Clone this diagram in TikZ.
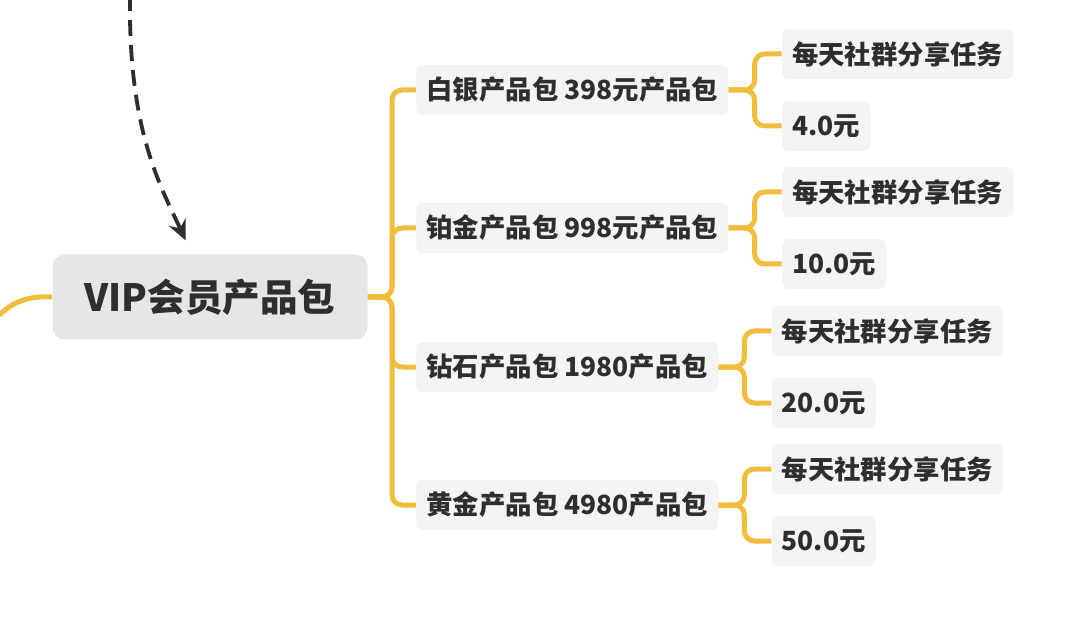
\documentclass[tikz,border=0pt]{standalone}
\usepackage{fontspec}
\setmainfont{Noto Sans CJK SC}
\usetikzlibrary{arrows.meta, positioning}
\definecolor{branchyellow}{HTML}{F0BE3C}
\definecolor{rootgray}{HTML}{E6E6E6}
\definecolor{leafgray}{HTML}{F4F4F4}
\definecolor{inkgray}{HTML}{2E2E2E}

\begin{document}
\begin{tikzpicture}[
    x=0.5pt, y=-0.5pt,
    root/.style={rectangle, fill=rootgray, rounded corners=6pt, minimum width=157.5pt, minimum height=42.5pt, font=\fontsize{18.8}{22}\selectfont\bfseries, text=inkgray},
    pack/.style={rectangle, fill=leafgray, rounded corners=3pt, inner xsep=5pt, minimum height=25pt, font=\fontsize{13.2}{15}\selectfont\bfseries, text=inkgray, anchor=west},
    task/.style={pack, font=\fontsize{13.2}{15}\selectfont\bfseries},
    branch/.style={draw=branchyellow, line width=2.5pt, rounded corners=5pt},
    link/.style={-{Stealth[length=10pt,width=9pt]}, dashed, dash pattern=on 8pt off 4.5pt, line width=1.9pt, draw=inkgray}
]
\useasboundingbox (0,0) rectangle (1080,641);

% Nodes
\node[root] (root) at (210,297) {VIP会员产品包};
\node[pack] (silver) at (416,90) {白银产品包 398元产品包};
\node[pack] (platinum) at (416,228) {铂金产品包 998元产品包};
\node[pack] (diamond) at (416,367) {钻石产品包 1980产品包};
\node[pack] (gold) at (416,505) {黄金产品包 4980产品包};

\node[task, right=26.5pt of silver, yshift=18pt] (silvertask) {每天社群分享任务};
\node[task, right=26.5pt of silver, yshift=-18pt] (silverprice) {4.0元};
\node[task, right=26.5pt of platinum, yshift=18pt] (platinumtask) {每天社群分享任务};
\node[task, right=26.5pt of platinum, yshift=-18pt] (platinumprice) {10.0元};
\node[task, right=26.5pt of diamond, yshift=18pt] (diamondtask) {每天社群分享任务};
\node[task, right=26.5pt of diamond, yshift=-18pt] (diamondprice) {20.0元};
\node[task, right=26.5pt of gold, yshift=18pt] (goldtask) {每天社群分享任务};
\node[task, right=26.5pt of gold, yshift=-18pt] (goldprice) {50.0元};

% Connectors
\coordinate (trunk) at (392,297);
\coordinate (lin) at (-2,316);
\coordinate (dtop) at (130,-5);

\draw[branch] (lin) .. controls (15,300) and (30,296) .. (root.west);
\foreach \n in {silver,platinum,diamond,gold} {
    \draw[branch] (root.east) -- (trunk) |- (\n.west);
    \draw[branch] (\n.east) -- ++(13pt,0) |- (\n task.west);
    \draw[branch] (\n.east) -- ++(13pt,0) |- (\n price.west);
}

\draw[link, shorten >=7.5pt] (dtop) .. controls (128,130) and (160,185) .. ([xshift=-9pt]root.north);

\end{tikzpicture}
\end{document}
